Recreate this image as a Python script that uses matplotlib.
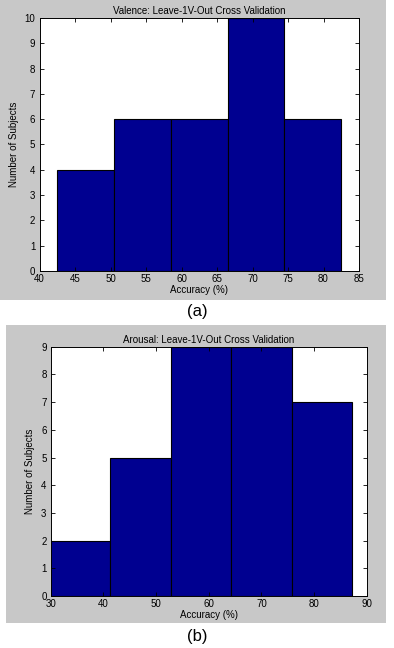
import matplotlib
matplotlib.use('Agg')
import matplotlib.pyplot as plt
from matplotlib.patches import Rectangle

## DATA
valence_edges = [42.5, 50.5, 58.5, 66.5, 74.5, 82.5]
valence_counts = [4, 6, 6, 10, 6]
arousal_edges = [29.8, 41.3, 52.8, 64.3, 75.8, 87.3]
arousal_counts = [2, 5, 9, 9, 7]

plt.rcParams['font.family'] = ['Liberation Sans', 'DejaVu Sans']

W, H = 394, 648
fig = plt.figure(figsize=(W / 100, H / 100), dpi=100)
fig.patch.set_facecolor('white')

## GRAY MATLAB-STYLE PANELS BEHIND EACH AXES (PIXEL BOXES -> FIGURE FRACTIONS)
def panel(x0, y0, x1, y1):
    fig.patches.append(Rectangle((x0 / W, 1 - y1 / H), (x1 - x0) / W, (y1 - y0) / H,
                                 transform=fig.transFigure, facecolor='#c8c8c8',
                                 edgecolor='none', zorder=-5))

panel(0, 0, 386, 300)
panel(6, 325, 386, 623)

bar_color = '#000090'

def draw(rect, edges, counts, xlim, ylim, xticks, title):
    ax = fig.add_axes(rect, zorder=2)
    widths = [edges[i + 1] - edges[i] for i in range(len(counts))]
    ax.bar(edges[:-1], counts, width=widths, align='edge', color=bar_color,
           edgecolor='black', linewidth=0.8)
    ax.set_xlim(*xlim)
    ax.set_ylim(*ylim)
    ax.set_xticks(xticks)
    ax.set_yticks(range(ylim[0], ylim[1] + 1))
    ax.tick_params(direction='in', length=3, width=0.6, labelsize=7,
                   top=True, right=True)
    ax.tick_params(axis='x', pad=2)
    ax.tick_params(axis='y', pad=3)
    for s in ax.spines.values():
        s.set_linewidth(0.7)
    ax.set_title(title, fontsize=7, pad=3)
    ax.set_xlabel('Accuracy (%)', fontsize=7, labelpad=1)
    ax.set_ylabel('Number of Subjects', fontsize=7, labelpad=4)
    return ax

draw([39.5 / W, 1 - 271 / H, (359 - 39.5) / W, (271 - 18) / H],
     valence_edges, valence_counts, (40, 85), (0, 10), range(40, 86, 5),
     'Valence: Leave-1V-Out Cross Validation')

draw([50.7 / W, 1 - 596 / H, (366.7 - 50.7) / W, (596 - 346.7) / H],
     arousal_edges, arousal_counts, (30, 90), (0, 9), range(30, 91, 10),
     'Arousal: Leave-1V-Out Cross Validation')

fig.text(197 / W, 1 - 312 / H, '(a)', ha='center', va='center', fontsize=12)
fig.text(197 / W, 1 - 636 / H, '(b)', ha='center', va='center', fontsize=12)

fig.savefig('out.png', dpi=100)
